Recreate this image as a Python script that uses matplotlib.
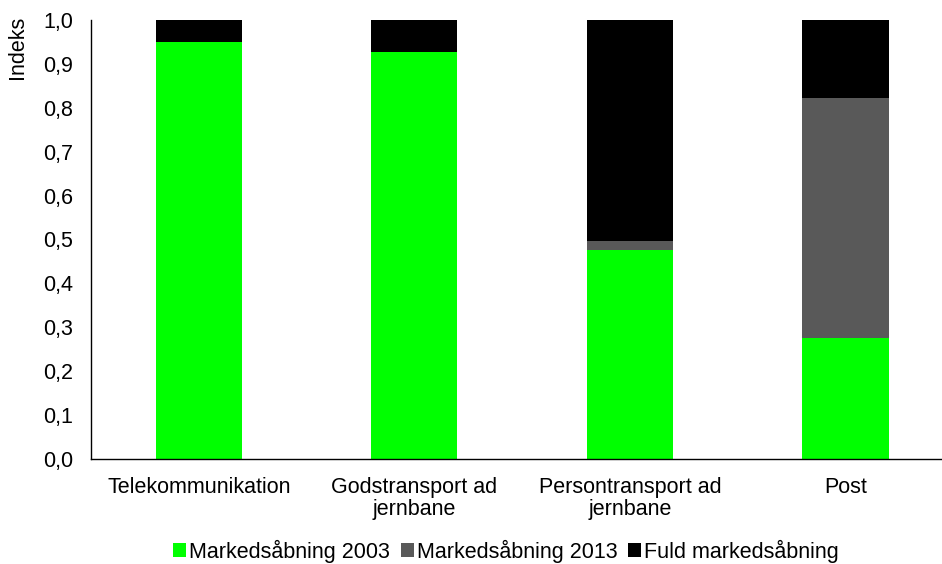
import matplotlib
matplotlib.use("Agg")
import matplotlib.pyplot as plt
from matplotlib.ticker import FuncFormatter
import numpy as np

plt.rcParams['font.family'] = ['Liberation Sans', 'DejaVu Sans']

categories = ["Telekommunikation", "Godstransport ad\njernbane", "Persontransport ad\njernbane", "Post"]
series_names = ["Markedsåbning 2003", "Markedsåbning 2013", "Fuld markedsåbning"]
v2003 = [0.951, 0.928, 0.477, 0.275]
v2013 = [0.0, 0.0, 0.020, 0.547]
vfuld = [0.049, 0.072, 0.503, 0.178]
colors = ["#00FF00", "#595959", "#000000"]

FS = 15.5

fig = plt.figure(figsize=(9.42, 5.64), dpi=100)
ax = fig.add_axes([91/942, 1 - 459/564, (942-91)/942, (459-20)/564])

x = np.arange(len(categories))
w = 0.4
bottom = np.zeros(len(categories))
for vals, c, name in zip([v2003, v2013, vfuld], colors, series_names):
    ax.bar(x, vals, w, bottom=bottom, color=c, label=name, edgecolor='none')
    bottom += np.array(vals)

ax.set_xlim(-0.5, 3.448)
ax.set_ylim(0, 1.0)
ax.set_yticks(np.arange(0, 1.01, 0.1))
ax.yaxis.set_major_formatter(FuncFormatter(lambda v, p: f"{v:.1f}".replace('.', ',')))
ax.set_xticks(x)
ax.set_xticklabels(categories, fontsize=FS, linespacing=1.05)
ax.tick_params(axis='y', labelsize=FS, length=0, pad=13)
ax.tick_params(axis='x', length=0, pad=13)
for s in ['top', 'right']:
    ax.spines[s].set_visible(False)
for s in ['left', 'bottom']:
    ax.spines[s].set_color('black')
    ax.spines[s].set_linewidth(1.0)
ax.set_ylabel("Indeks", fontsize=FS)
ax.yaxis.set_label_coords((28 - 91) / 851, (459 - 47) / 439)

leg = fig.legend(loc='center', bbox_to_anchor=(506/942, 1 - 551/564), ncol=3,
                 frameon=False, fontsize=FS, handlelength=0.6, handleheight=0.6,
                 handletextpad=0.15, columnspacing=0.5)

fig.savefig("out.png", dpi=100)
